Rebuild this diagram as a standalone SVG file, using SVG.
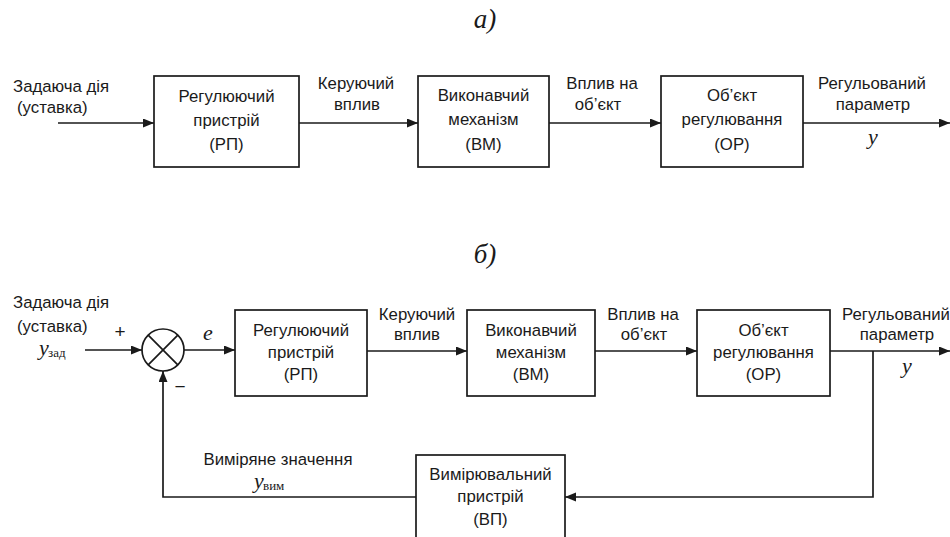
<svg xmlns="http://www.w3.org/2000/svg" width="950" height="537" viewBox="0 0 950 537">
<defs>
<marker id="ah" markerUnits="userSpaceOnUse" markerWidth="12" markerHeight="10" refX="11" refY="4.5" orient="auto">
<path d="M0,0 L11,4.5 L0,9 z" fill="#1a1a1a"/>
</marker>
<style>
.box{fill:#fff;stroke:#1a1a1a;stroke-width:1.7}
.ln{fill:none;stroke:#1a1a1a;stroke-width:1.7}
.t{font-family:"Liberation Sans",Arial,sans-serif;font-size:16.8px;fill:#1a1a1a}
.c{text-anchor:middle}
.ti{font-family:"Liberation Serif","Times New Roman",serif;font-style:italic;font-size:27px;fill:#1a1a1a}
.v{font-family:"Liberation Serif","Times New Roman",serif;font-style:italic;font-size:22px;fill:#1a1a1a}
.s{font-family:"Liberation Serif","Times New Roman",serif;font-size:13px;fill:#1a1a1a}
</style>
</defs>
<rect width="950" height="537" fill="#fff"/>

<text class="ti c" x="485" y="28">а)</text>
<text class="ti c" x="485" y="263">б)</text>

<g id="connectors">
<path class="ln" d="M58,123 H154" marker-end="url(#ah)"/>
<path class="ln" d="M299,123 H418" marker-end="url(#ah)"/>
<path class="ln" d="M549,123 H661" marker-end="url(#ah)"/>
<path class="ln" d="M803,123 H950" marker-end="url(#ah)"/>

<path class="ln" d="M85,350 H142" marker-end="url(#ah)"/>
<path class="ln" d="M184,350 H235" marker-end="url(#ah)"/>
<path class="ln" d="M367,351 H467" marker-end="url(#ah)"/>
<path class="ln" d="M595,351 H697" marker-end="url(#ah)"/>
<path class="ln" d="M830,351 H950" marker-end="url(#ah)"/>
<path class="ln" d="M873,351 V497 H565" marker-end="url(#ah)"/>
<path class="ln" d="M416,497 H163 V371" marker-end="url(#ah)"/>
</g>

<g id="labels-a">
<text class="t" x="13" y="92">Задаюча дія</text>
<text class="t" x="17" y="113">(уставка)</text>
<text class="t c" x="356" y="89">Керуючий</text>
<text class="t c" x="357" y="110">вплив</text>
<text class="t c" x="602" y="89">Вплив на</text>
<text class="t c" x="598" y="110">об’єкт</text>
<text class="t c" x="872" y="89">Регульований</text>
<text class="t c" x="873" y="110">параметр</text>
<text class="v c" x="873" y="144">y</text>
</g>

<g id="rp-a">
<rect class="box" x="154" y="76" width="145" height="91"/>
<text class="t c" x="226.5" y="102">Регулюючий</text>
<text class="t c" x="226.5" y="126">пристрій</text>
<text class="t c" x="226.5" y="150">(РП)</text>
</g>
<g id="vm-a">
<rect class="box" x="418" y="76" width="131" height="91"/>
<text class="t c" x="483.5" y="101">Виконавчий</text>
<text class="t c" x="483.5" y="125">механізм</text>
<text class="t c" x="483.5" y="150">(ВМ)</text>
</g>
<g id="or-a">
<rect class="box" x="661" y="76" width="142" height="91"/>
<text class="t c" x="732" y="101">Об’єкт</text>
<text class="t c" x="732" y="125">регулювання</text>
<text class="t c" x="732" y="150">(ОР)</text>
</g>

<g id="labels-b">
<text class="t" x="13" y="308">Задаюча дія</text>
<text class="t" x="17" y="332">(уставка)</text>
<text class="v" x="39" y="355">y</text>
<text class="s" x="48" y="357">зад</text>
<text class="t c" x="120" y="338" style="font-size:19px">+</text>
<text class="v c" x="208" y="340">e</text>
<text class="t c" x="180" y="393" style="font-size:19px">−</text>
<text class="t c" x="417" y="320">Керуючий</text>
<text class="t c" x="417" y="340">вплив</text>
<text class="t c" x="643" y="320">Вплив на</text>
<text class="t c" x="644" y="340">об’єкт</text>
<text class="t c" x="896" y="320">Регульований</text>
<text class="t c" x="897" y="340">параметр</text>
<text class="v c" x="907" y="373">y</text>
<text class="t c" x="278" y="465">Виміряне значення</text>
<text class="v" x="254" y="488">y</text>
<text class="s" x="263" y="490">вим</text>
</g>

<g id="sum">
<circle cx="163" cy="350" r="21" fill="#fff" stroke="#1a1a1a" stroke-width="1.7"/>
<path class="ln" d="M148.2,335.2 L177.8,364.8 M177.8,335.2 L148.2,364.8"/>
</g>
<g id="rp-b">
<rect class="box" x="235" y="310" width="132" height="86"/>
<text class="t c" x="301" y="336">Регулюючий</text>
<text class="t c" x="301" y="358">пристрій</text>
<text class="t c" x="301" y="380">(РП)</text>
</g>
<g id="vm-b">
<rect class="box" x="467" y="310" width="128" height="86"/>
<text class="t c" x="531" y="336">Виконавчий</text>
<text class="t c" x="531" y="358">механізм</text>
<text class="t c" x="531" y="380">(ВМ)</text>
</g>
<g id="or-b">
<rect class="box" x="697" y="310" width="133" height="86"/>
<text class="t c" x="763.5" y="336">Об’єкт</text>
<text class="t c" x="763.5" y="358">регулювання</text>
<text class="t c" x="763.5" y="380">(ОР)</text>
</g>
<g id="vp-b">
<rect class="box" x="416" y="455" width="149" height="95"/>
<text class="t c" x="490.5" y="480">Вимірювальний</text>
<text class="t c" x="490.5" y="502">пристрій</text>
<text class="t c" x="490.5" y="525">(ВП)</text>
</g>
</svg>
